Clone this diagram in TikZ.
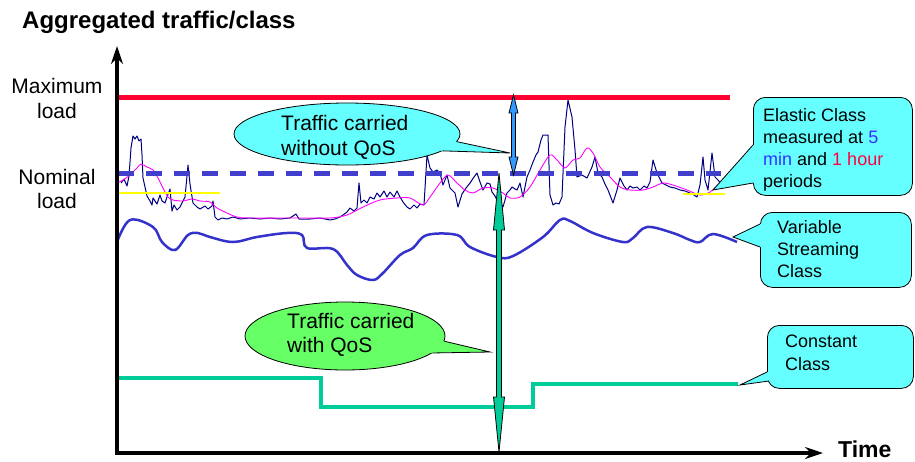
\documentclass[tikz,border=0pt]{standalone}
\usepackage{fontspec}
\setmainfont{Liberation Sans}
\usetikzlibrary{arrows.meta,calc,shapes.geometric}
\definecolor{redline}{HTML}{FF0033}
\definecolor{dashblue}{HTML}{4040CC}
\definecolor{navytrace}{HTML}{000080}
\definecolor{pinktrace}{HTML}{FF00FF}
\definecolor{varblue}{HTML}{3333CC}
\definecolor{tealline}{HTML}{00CC99}
\definecolor{yellowline}{HTML}{FFFF00}
\definecolor{cyanfill}{HTML}{66FFFF}
\definecolor{greenfill}{HTML}{66FF66}
\definecolor{arrowblue}{HTML}{3399FF}
\definecolor{txtblue}{HTML}{3333FF}
\definecolor{txtred}{HTML}{FF0040}
\begin{document}
\begin{tikzpicture}[x=1pt,y=-1pt,
  axisline/.style={line width=3.5pt,-{Stealth[length=18pt,width=12pt]}},
  callbox/.style={draw=black,line width=0.8pt,fill=cyanfill,rounded corners=12pt,inner sep=0pt,anchor=north west},
  callell/.style={ellipse,draw=black,line width=0.8pt,inner sep=0pt},
  tailline/.style={draw=black,line width=0.8pt,line join=miter},
  bigtxt/.style={inner sep=0pt,font=\fontsize{21}{25}\selectfont},
  boxtxt/.style={inner sep=0pt,anchor=base west,font=\fontsize{18}{22}\selectfont},
  dblarrow/.style={draw=black,line width=0.8pt,line join=miter}
]
\useasboundingbox (0,0) rectangle (915,461);

% title and axis labels
\node[anchor=base west,inner sep=0pt,font=\bfseries\fontsize{24}{28}\selectfont] (title) at (22,28) {Aggregated traffic/class};
\node[anchor=base west,inner sep=0pt,font=\bfseries\fontsize{23}{27}\selectfont] (time) at (838,457) {Time};
\node[bigtxt,anchor=base] (max1) at (57,93) {Maximum};
\node[bigtxt,anchor=base] (max2) at (57,118) {load};
\node[bigtxt,anchor=base] (nom1) at (57,184) {Nominal};
\node[bigtxt,anchor=base] (nom2) at (57,208) {load};

% traces
\draw[navytrace,line width=1pt,line join=round] plot coordinates {
(121,183) (124,179) (127,186) (129,176) (131,148) (133,136) (135,139) (137,136) (139,141) (141,139) (142,155) (143,178) (147,196) (150,201) (152,205) (153,198) (157,204) (160,195) (162,201) (165,203) (167,197) (170,189) (172,211) (174,205) (177,210) (180,207) (185,197) (187,176) (188,165) (190,184) (193,203) (197,207) (200,209) (205,206) (208,209) (212,206) (213,201) (215,217) (218,220) (222,218) (227,219) (233,217) (240,219) (250,218) (260,219) (270,218) (280,219) (290,218) (296,214) (299,219) (310,219) (320,218) (330,220) (335,219) (340,217) (343,215) (347,212) (350,208) (354,211) (357,208) (359,183) (361,203) (364,200) (367,203) (370,197) (374,199) (377,193) (380,197) (384,191) (387,197) (390,192) (394,197) (397,191) (400,197) (403,202) (407,207) (410,209) (414,205) (417,208) (420,204) (424,205) (427,155) (430,168) (433,172) (437,170) (440,173) (443,185) (447,175) (450,188) (455,193) (458,207) (462,194) (466,188) (470,183) (474,177) (477,173) (480,182) (483,190) (487,183) (490,184) (492,192) (495,196) (497,200) (500,203) (503,207) (507,193) (510,190) (512,187) (515,189) (517,190) (520,183) (523,197) (527,177) (530,170) (533,162) (536,155) (538,152) (541,140) (543,135) (548,135) (550,195) (553,205) (556,203) (559,204) (562,197) (565,127) (568,100) (572,117) (575,150) (577,177) (582,175) (587,178) (592,167) (595,157) (598,173) (602,177) (605,184) (608,190) (613,203) (617,190) (620,178) (624,186) (627,190) (630,186) (633,188) (637,187) (640,190) (644,186) (647,188) (650,182) (653,160) (657,173) (662,183) (666,185) (670,187) (675,188) (680,190) (685,191) (690,193) (694,195) (697,197) (700,185) (703,157) (705,180) (708,190) (712,153) (715,177) (718,180) (721,184) (724,186)};
\draw[pinktrace,line width=0.9pt] plot[smooth,tension=0.5] coordinates {
(117,183) (123,180) (130,175) (137,168) (141,164) (147,167) (153,170) (158,178) (163,188) (168,197) (173,200) (183,201) (192,199) (200,201) (210,202) (217,208) (227,213) (237,217) (250,218) (300,218) (330,218) (347,215) (363,207) (380,200) (397,198) (410,198) (423,205) (430,197) (440,183) (448,175) (457,183) (465,190) (473,193) (483,188) (493,188) (503,193) (510,198) (520,197) (530,187) (540,170) (550,155) (557,160) (565,168) (573,160) (580,158) (587,148) (593,153) (600,167) (610,177) (620,187) (630,190) (643,190) (653,187) (663,183) (673,185) (687,190) (700,195) (710,192) (720,183)};
\draw[yellowline,line width=1.5pt] (117,193) -- (220,193);
\draw[yellowline,line width=1.5pt] (683,194) -- (725,194);

\draw[varblue,line width=2.5pt] plot[smooth,tension=0.6] coordinates {
(117,242) (130,220) (153,227) (162,242) (175,250) (188,235) (198,233) (210,237) (233,242) (257,237) (287,233) (302,235) (307,248) (333,249) (347,265) (357,275) (373,280) (383,273) (400,255) (413,248) (427,235) (457,235) (470,247) (497,257) (513,256) (543,237) (560,220) (570,221) (593,233) (623,242) (633,238) (647,227) (673,233) (690,240) (700,242) (713,234) (737,242)};

\draw[tealline,line width=3.3pt] (117,378) -- (321,378) -- (321,407) -- (533,407) -- (533,384) -- (738,384);

% load levels
\draw[redline,line width=5pt] (117,97.5) -- (730,97.5);
\draw[dashblue,line width=5pt,dash pattern=on 15.5pt off 12.5pt] (118,173) -- (721,173);

% axes
\coordinate (O) at (117,453);
\coordinate (ytip) at (117,46);
\coordinate (xtip) at (823,453);
\draw[axisline] ($(O)+(0,1.75)$) -- (ytip);
\draw[axisline] ($(O)+(-1.75,0)$) -- (xtip);

% double arrows
\coordinate (gtop) at (499,173);
\coordinate (gbot) at (499,452);
\filldraw[dblarrow,fill=tealline] (gtop) -- ($(gtop)+(5.5,57)$) -- ($(gtop)+(2.5,57)$) -- ($(gbot)+(2.5,-55)$) -- ($(gbot)+(5.5,-55)$) -- (gbot) -- ($(gbot)+(-5.5,-55)$) -- ($(gbot)+(-2.5,-55)$) -- ($(gtop)+(-2.5,57)$) -- ($(gtop)+(-5.5,57)$) -- cycle;
\coordinate (btop) at (513.5,95);
\coordinate (bbot) at (513.5,175);
\filldraw[dblarrow,fill=arrowblue] (btop) -- ($(btop)+(4.5,18)$) -- ($(btop)+(2,18)$) -- ($(bbot)+(2,-18)$) -- ($(bbot)+(4.5,-18)$) -- (bbot) -- ($(bbot)+(-4.5,-18)$) -- ($(bbot)+(-2,-18)$) -- ($(btop)+(-2,18)$) -- ($(btop)+(-4.5,18)$) -- cycle;

% ellipse callouts
\node[callell,fill=cyanfill,minimum width=226pt,minimum height=62pt] (cy) at (347,134) {};
\coordinate (cytip) at (510,153);
\fill[cyanfill] (cytip) -- (cy.-4) -- ($(cy.-4)!3pt!(cy.center)$) -- ($(cy.-10)!3pt!(cy.center)$) -- (cy.-10) -- cycle;
\draw[tailline] (cy.-4) -- (cytip) -- (cy.-10);
\node[bigtxt,anchor=base west] (cyt1) at (281,130) {Traffic carried};
\node[bigtxt,anchor=base west] (cyt2) at (281,155) {without QoS};

\node[callell,fill=greenfill,minimum width=200pt,minimum height=68pt] (gr) at (345,336) {};
\coordinate (grtip) at (490,352);
\fill[greenfill] (grtip) -- (gr.-3) -- ($(gr.-3)!3pt!(gr.center)$) -- ($(gr.-11)!3pt!(gr.center)$) -- (gr.-11) -- cycle;
\draw[tailline] (gr.-3) -- (grtip) -- (gr.-11);
\node[bigtxt,anchor=base west] (grt1) at (287,328) {Traffic carried};
\node[bigtxt,anchor=base west] (grt2) at (287,352) {with QoS};

% box callouts
\node[callbox,minimum width=159pt,minimum height=98pt] (ela) at (753,97) {};
\coordinate (elatip) at (713,190);
\fill[cyanfill] (elatip) -- (753,145) -- (757,145) -- (757,183) -- (753,183) -- cycle;
\draw[tailline] (753,145) -- (elatip) -- (753,183);
\node[boxtxt] (elat1) at (763,121) {Elastic Class};
\node[boxtxt] (elat2) at (763,143) {measured at \textcolor{txtblue}{5}};
\node[boxtxt] (elat3) at (763,165) {\textcolor{txtblue}{min} and \textcolor{txtred}{1 hour}};
\node[boxtxt] (elat4) at (763,187) {periods};

\node[callbox,minimum width=151pt,minimum height=75pt] (var) at (760,212) {};
\coordinate (vartip) at (733,237);
\fill[cyanfill] (vartip) -- (760,224) -- (764,224) -- (764,247) -- (760,247) -- cycle;
\draw[tailline] (760,224) -- (vartip) -- (760,247);
\node[boxtxt] (vart1) at (777,233) {Variable};
\node[boxtxt] (vart2) at (777,255) {Streaming};
\node[boxtxt] (vart3) at (777,277) {Class};

\node[callbox,minimum width=146pt,minimum height=63pt] (con) at (767,325) {};
\coordinate (contip) at (740,385);
\fill[cyanfill] (contip) -- (767,372) -- (772,372) -- (772,381) -- (768,381) -- cycle;
\draw[tailline] (767,372) -- (contip) -- (769,381);
\node[boxtxt] (cont1) at (785,347) {Constant};
\node[boxtxt] (cont2) at (785,370) {Class};
\end{tikzpicture}
\end{document}
